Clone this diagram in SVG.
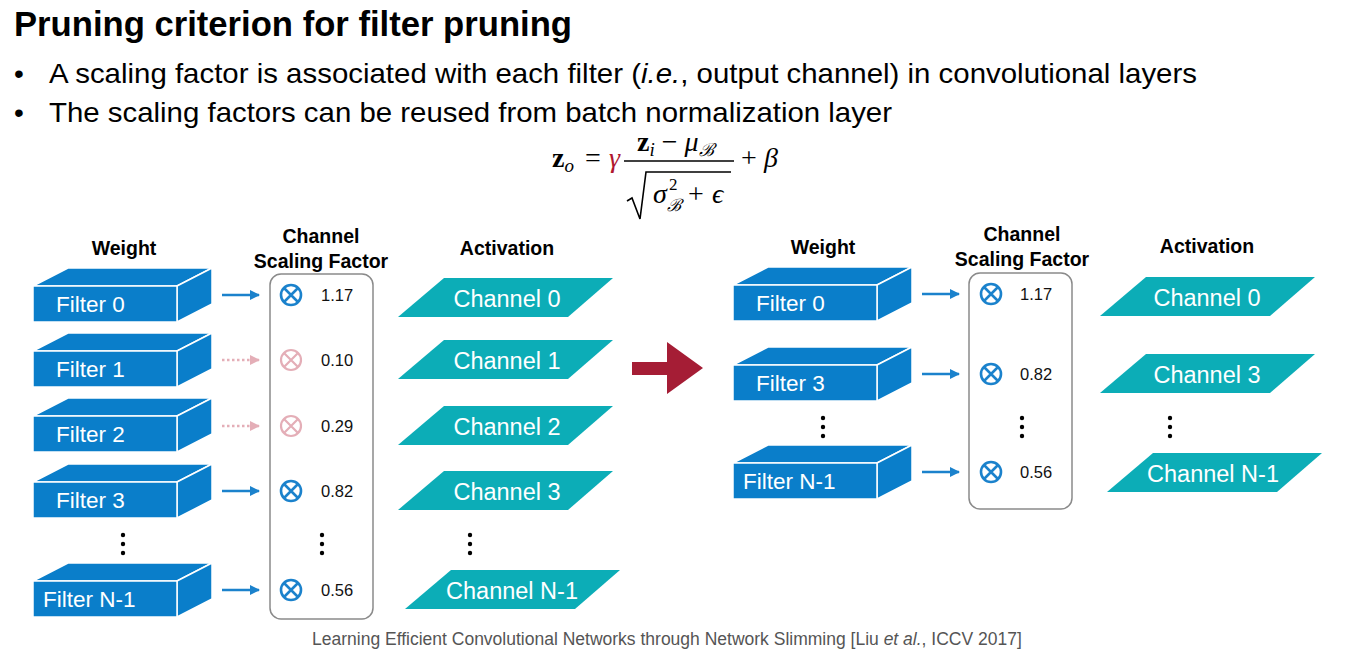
<svg xmlns="http://www.w3.org/2000/svg" width="1347" height="651" viewBox="0 0 1347 651">
<defs>
<style>
.t{font-family:"Liberation Sans",Arial,sans-serif;fill:#000}
.title{font-size:34.5px;font-weight:bold}
.bul{font-size:28px}
.hd{font-size:19.5px;font-weight:bold;text-anchor:middle}
.ft{font-family:"Liberation Sans",Arial,sans-serif;font-size:22.5px;fill:#fff}
.ct{font-family:"Liberation Sans",Arial,sans-serif;font-size:23.5px;fill:#fff;text-anchor:middle}
.val{font-family:"Liberation Sans",Arial,sans-serif;font-size:16.5px;fill:#111}
.face{fill:#0A7ECA;stroke:#fff;stroke-width:1.5;stroke-linejoin:round}
.act{fill:#0CADB7}
.box{fill:none;stroke:#8a8a8a;stroke-width:1.5}
.ar{stroke:#1B82CC;stroke-width:2.5;fill:none}
.ard{stroke:#E4AEB7;stroke-width:2.5;fill:none;stroke-dasharray:2.5 2.5}
.ox{fill:none;stroke:#1B82CC;stroke-width:2.6}
.oxd{fill:none;stroke:#E4AEB7;stroke-width:2.2}
.dot{fill:#000}
.m{font-family:"Liberation Serif","DejaVu Serif",serif;font-size:28px;fill:#000}
.ms{font-family:"Liberation Serif","DejaVu Serif",serif;font-size:17px;fill:#000}
.red{fill:#B0172F}
.foot{font-family:"Liberation Sans",Arial,sans-serif;font-size:17.5px;fill:#555}
</style>
<marker id="ah" viewBox="0 0 10 10" refX="9" refY="5" markerWidth="4" markerHeight="4" orient="auto" markerUnits="strokeWidth"><path d="M0,0 L10,5 L0,10 z" fill="#1B82CC"/></marker>
<marker id="ahd" viewBox="0 0 10 10" refX="9" refY="5" markerWidth="4" markerHeight="4" orient="auto" markerUnits="strokeWidth"><path d="M0,0 L10,5 L0,10 z" fill="#E4AEB7"/></marker>
<g id="cube">
<path class="face" d="M0,0 L35,-18 L179,-18 L144,0 Z"/>
<path class="face" d="M144,0 L179,-18 L179,18 L144,36 Z"/>
<rect class="face" x="0" y="0" width="144" height="36"/>
</g>
<path id="para" class="act" d="M46,0 L215,0 L170,39 L0,39 Z"/>
<g id="otimes"><circle cx="0" cy="0" r="10"/><path d="M-7,-7 L7,7 M7,-7 L-7,7"/></g>
</defs>

<g id="header">
<text class="t title" x="14" y="36" textLength="558" lengthAdjust="spacingAndGlyphs">Pruning criterion for filter pruning</text>
<text class="t bul" x="14" y="83">•</text>
<text class="t bul" x="49" y="83" textLength="1148" lengthAdjust="spacingAndGlyphs">A scaling factor is associated with each filter (<tspan font-style="italic">i.e.</tspan>, output channel) in convolutional layers</text>
<text class="t bul" x="14" y="122">•</text>
<text class="t bul" x="49" y="122" textLength="843" lengthAdjust="spacingAndGlyphs">The scaling factors can be reused from batch normalization layer</text>
</g>

<g id="formula">
<text class="m" x="552" y="167"><tspan font-weight="bold">z</tspan><tspan font-style="italic" font-size="19" dy="5">o</tspan></text>
<text class="m" x="585" y="167">=</text>
<text class="m red" x="609" y="167" font-style="italic">γ</text>
<line x1="624" y1="161" x2="734" y2="161" stroke="#000" stroke-width="1.6"/>
<text class="m" x="637" y="151"><tspan font-weight="bold">z</tspan><tspan font-style="italic" font-size="19" dy="5">i</tspan><tspan dy="-5" dx="7">−</tspan><tspan dx="7" font-style="italic">μ</tspan><tspan font-style="italic" font-size="18" dy="5">ℬ</tspan></text>
<path d="M627,201 L632,198 L640,219 L646,172 L731,172" fill="none" stroke="#000" stroke-width="1.6"/>
<text class="m" x="653" y="203" font-style="italic">σ</text>
<text class="ms" x="669" y="190">2</text>
<text class="ms" x="667" y="211" font-style="italic">ℬ</text>
<text class="m" x="688" y="203">+</text>
<text class="m" x="712" y="203" font-style="italic">ϵ</text>
<text class="m" x="741" y="167">+</text>
<text class="m" x="764" y="167" font-style="italic">β</text>
</g>

<g id="left-headers">
<text class="t hd" x="124" y="255">Weight</text>
<text class="t hd" x="321" y="243">Channel</text>
<text class="t hd" x="321" y="268">Scaling Factor</text>
<text class="t hd" x="507" y="255">Activation</text>
</g>

<g id="filter-0-left"><use href="#cube" x="33" y="286"/><text class="ft" x="56" y="312">Filter 0</text></g>
<g id="filter-1-left"><use href="#cube" x="33" y="351"/><text class="ft" x="56" y="377">Filter 1</text></g>
<g id="filter-2-left"><use href="#cube" x="33" y="416"/><text class="ft" x="56" y="442">Filter 2</text></g>
<g id="filter-3-left"><use href="#cube" x="33" y="482"/><text class="ft" x="56" y="508">Filter 3</text></g>
<g id="filter-n1-left"><use href="#cube" x="33" y="581"/><text class="ft" x="43" y="607">Filter N-1</text></g>
<g id="dots-filter-left"><circle class="dot" cx="123" cy="535" r="2.2"/><circle class="dot" cx="123" cy="544" r="2.2"/><circle class="dot" cx="123" cy="553" r="2.2"/></g>

<g id="scaling-left">
<rect class="box" x="270" y="274" width="103" height="345" rx="11"/>
<use href="#otimes" x="291" y="295" class="ox"/><text class="val" x="321" y="301">1.17</text>
<use href="#otimes" x="291" y="360" class="oxd"/><text class="val" x="321" y="366">0.10</text>
<use href="#otimes" x="291" y="426" class="oxd"/><text class="val" x="321" y="432">0.29</text>
<use href="#otimes" x="291" y="491" class="ox"/><text class="val" x="321" y="497">0.82</text>
<use href="#otimes" x="291" y="590" class="ox"/><text class="val" x="321" y="596">0.56</text>
<circle class="dot" cx="322" cy="535" r="2.2"/><circle class="dot" cx="322" cy="544" r="2.2"/><circle class="dot" cx="322" cy="553" r="2.2"/>
</g>

<g id="channel-0-left"><use href="#para" x="398" y="278"/><text class="ct" x="507" y="307">Channel 0</text></g>
<g id="channel-1-left"><use href="#para" x="398" y="340"/><text class="ct" x="507" y="369">Channel 1</text></g>
<g id="channel-2-left"><use href="#para" x="398" y="406"/><text class="ct" x="507" y="435">Channel 2</text></g>
<g id="channel-3-left"><use href="#para" x="398" y="471"/><text class="ct" x="507" y="500">Channel 3</text></g>
<g id="channel-n1-left"><use href="#para" x="405" y="570"/><text class="ct" x="512" y="599">Channel N-1</text></g>
<g id="dots-act-left"><circle class="dot" cx="470" cy="535" r="2.2"/><circle class="dot" cx="470" cy="544" r="2.2"/><circle class="dot" cx="470" cy="553" r="2.2"/></g>

<g id="prune-arrow"><path d="M632,362 L667,362 L667,342 L703,368 L667,394 L667,375 L632,375 Z" fill="#A51D35"/></g>

<g id="right-headers">
<text class="t hd" x="823" y="254">Weight</text>
<text class="t hd" x="1022" y="241">Channel</text>
<text class="t hd" x="1022" y="266">Scaling Factor</text>
<text class="t hd" x="1207" y="253">Activation</text>
</g>

<g id="filter-0-right"><use href="#cube" x="733" y="285"/><text class="ft" x="756" y="311">Filter 0</text></g>
<g id="filter-3-right"><use href="#cube" x="733" y="365"/><text class="ft" x="756" y="391">Filter 3</text></g>
<g id="filter-n1-right"><use href="#cube" x="733" y="463"/><text class="ft" x="743" y="489">Filter N-1</text></g>
<g id="dots-filter-right"><circle class="dot" cx="823" cy="418" r="2.2"/><circle class="dot" cx="823" cy="427" r="2.2"/><circle class="dot" cx="823" cy="436" r="2.2"/></g>

<g id="scaling-right">
<rect class="box" x="969" y="273" width="103" height="236" rx="11"/>
<use href="#otimes" x="991" y="294" class="ox"/><text class="val" x="1020" y="300">1.17</text>
<use href="#otimes" x="991" y="374" class="ox"/><text class="val" x="1020" y="380">0.82</text>
<use href="#otimes" x="991" y="472" class="ox"/><text class="val" x="1020" y="478">0.56</text>
<circle class="dot" cx="1022" cy="418" r="2.2"/><circle class="dot" cx="1022" cy="427" r="2.2"/><circle class="dot" cx="1022" cy="436" r="2.2"/>
</g>

<g id="channel-0-right"><use href="#para" x="1100" y="277"/><text class="ct" x="1207" y="306">Channel 0</text></g>
<g id="channel-3-right"><use href="#para" x="1100" y="354"/><text class="ct" x="1207" y="383">Channel 3</text></g>
<g id="channel-n1-right"><use href="#para" x="1107" y="453"/><text class="ct" x="1213" y="482">Channel N-1</text></g>
<g id="dots-act-right"><circle class="dot" cx="1170" cy="418" r="2.2"/><circle class="dot" cx="1170" cy="427" r="2.2"/><circle class="dot" cx="1170" cy="436" r="2.2"/></g>

<g id="connectors">
<line class="ar" x1="222" y1="295" x2="259" y2="295" marker-end="url(#ah)"/>
<line class="ard" x1="222" y1="360" x2="259" y2="360" marker-end="url(#ahd)"/>
<line class="ard" x1="222" y1="426" x2="259" y2="426" marker-end="url(#ahd)"/>
<line class="ar" x1="222" y1="491" x2="259" y2="491" marker-end="url(#ah)"/>
<line class="ar" x1="222" y1="590" x2="259" y2="590" marker-end="url(#ah)"/>
<line class="ar" x1="922" y1="294" x2="959" y2="294" marker-end="url(#ah)"/>
<line class="ar" x1="922" y1="374" x2="959" y2="374" marker-end="url(#ah)"/>
<line class="ar" x1="922" y1="472" x2="959" y2="472" marker-end="url(#ah)"/>
</g>

<g id="footer">
<text class="foot" x="312" y="645">Learning Efficient Convolutional Networks through Network Slimming [Liu <tspan font-style="italic">et al.</tspan>, ICCV 2017]</text>
</g>
</svg>
